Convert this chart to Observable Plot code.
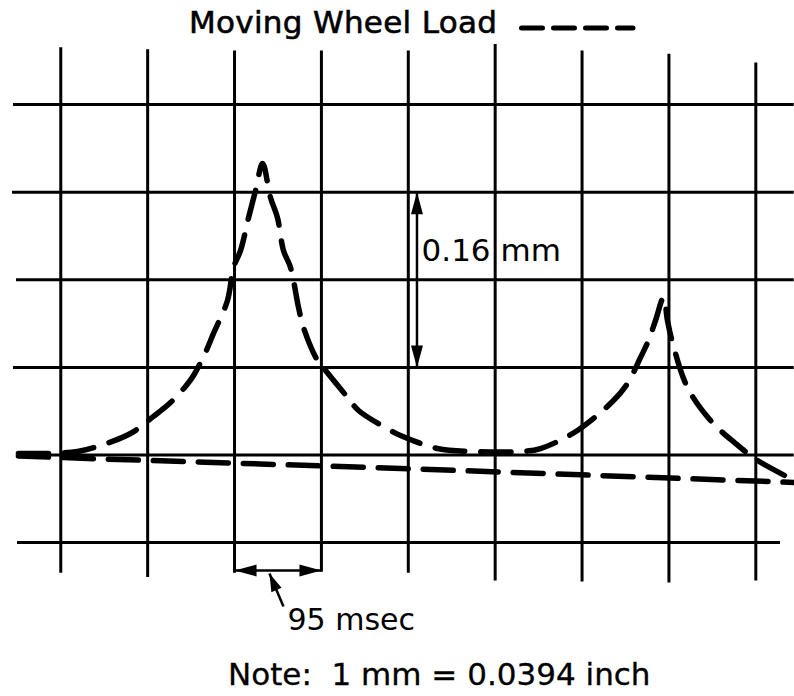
<!DOCTYPE html>
<html>
<head>
<meta charset="utf-8">
<script src="https://cdn.jsdelivr.net/npm/d3@7"></script>
<script src="https://cdn.jsdelivr.net/npm/@observablehq/plot@0.6"></script>
<style>
  html, body { margin: 0; padding: 0; background: #fff; }
  #wrap { position: relative; width: 794px; height: 696px; overflow: hidden; background: #fff; }
  #title { position: absolute; left: 189px; top: 6px; font: 31px/32px "DejaVu Sans", sans-serif; letter-spacing: 0.3px; -webkit-text-stroke: 0.6px #000; color: #000; white-space: nowrap; }
  #legend { position: absolute; left: 515px; top: 20px; }
  #chart { position: absolute; left: 0; top: 44px; }
  #note { position: absolute; left: 228px; top: 659px; font: 31px/31px "DejaVu Sans", sans-serif; -webkit-text-stroke: 0.3px #000; color: #000; white-space: pre; }
</style>
</head>
<body>
<div id="wrap">
  <div id="title">Moving Wheel Load</div>
  <svg id="legend" width="130" height="16"><line x1="6.5" y1="8" x2="118" y2="8" stroke="#000" stroke-width="5" stroke-linecap="round" stroke-dasharray="21,11"/></svg>
  <div id="chart"></div>
  <div id="note">Note:  1 mm = 0.0394 inch</div>
</div>
<script>
// ---- grid (time in msec, deflection in mm) ----
const gridT = [0, 95, 190, 285, 380, 475, 570, 665, 760];
const gridTopV = [0.372, 0.370, 0.369, 0.369, 0.369, 0.375, 0.369, 0.366, 0.358];
const gridBottomV = [-0.108, -0.112, -0.108, -0.107, -0.108, -0.115, -0.116, -0.117, -0.115];
const gridV = [0.32, 0.24, 0.16, 0.08, 0, -0.08];
const gridLeftT = [-51.7, -52.8, -48.4, -51.7, -47.3, -47.3];
const gridRightT = [802, 802, 802, 802, 802, 787];

// ---- moving wheel load trace ----
const wheelT = [-46.3, -11.3, 18.3, 40.1, 76.2, 101.4, 120.0, 136.4, 145.2, 158.2, 167.0, 182.3, 188.9, 196.6, 205.4, 213.0, 220.7,
  229.3, 236.9, 243.5, 251.2, 260.0, 265.4, 280.7, 289.5, 313.5, 325.6, 360.5, 371.5, 411.9, 450.3, 502.7, 524.6, 565.0,
  604.4, 619.7, 633.9, 642.7, 650.3, 659.1, 663.4, 668.9, 685.3, 710.5, 737.8, 761.9, 802.3];
const wheelV = [0.0014, 0.0014, 0.0032, 0.0078, 0.0196, 0.0352, 0.0479, 0.0626, 0.0726, 0.0936, 0.1110, 0.1411, 0.1712, 0.1868, 0.2169, 0.2416, 0.2662,
  0.2352, 0.2169, 0.1868, 0.1712, 0.1347, 0.1164, 0.0863, 0.0772, 0.0527, 0.0406, 0.0224, 0.0178, 0.0059, 0.0032, 0.0032, 0.0059, 0.0224,
  0.0498, 0.0653, 0.0890, 0.1046, 0.1228, 0.1438, 0.1228, 0.1027, 0.0616, 0.0315, 0.0105, -0.0050, -0.0233];

// ---- static reference trace ----
const staticT = [-46.3, 29.2, 371.5, 802.3];
const staticV = [-0.0009, -0.0032, -0.0123, -0.0251];

// ---- annotations ----
const spanT = 389.5;                 // vertical dimension arrow position
const spanV = [0.08, 0.24];          // 0.16 mm
const spanLabel = "0.16 mm";
const spanLabelPos = [394.5, 0.1776];
const periodT = [190, 285];          // 95 msec
const periodV = -0.1055;
const periodLabel = "95 msec";
const periodLabelPos = [247.9, -0.1603];
const leaderFrom = [243.5, -0.1384];
const leaderTo = [228.2, -0.1082];

// custom arrowhead symbols (tip at origin)
function tri(points) {
  return { draw(ctx) { ctx.moveTo(0, 0); ctx.lineTo(points[0][0], points[0][1]); ctx.lineTo(points[1][0], points[1][1]); ctx.closePath(); } };
}
const headUp = tri([[6, 22], [-6, 22]]);
const headDown = tri([[6, -22], [-6, -22]]);
const headLeft = tri([[22, -6], [22, 6]]);
const headRight = tri([[-22, -6], [-22, 6]]);
const headLeader = tri([[12.1, 14.4], [1.9, 18.7]]);

const vLines = gridT.map((t, i) => ({t, y1: gridBottomV[i], y2: gridTopV[i]}));
const hLines = gridV.map((v, i) => ({v, x1: gridLeftT[i], x2: gridRightT[i]}));
const wheel = wheelT.map((t, i) => ({t, v: wheelV[i]}));
const stat = staticT.map((t, i) => ({t, v: staticV[i]}));

const chart = Plot.plot({
  width: 794,
  height: 600,
  marginTop: 0, marginRight: 0, marginBottom: 0, marginLeft: 0,
  x: {domain: [-65.9, 802.3], axis: null},
  y: {domain: [-0.1731, 0.3749], axis: null},
  style: {background: "transparent", overflow: "visible"},
  marks: [
    Plot.ruleX(vLines, {x: "t", y1: "y1", y2: "y2", stroke: "#000", strokeWidth: 3}),
    Plot.ruleY(hLines, {y: "v", x1: "x1", x2: "x2", stroke: "#000", strokeWidth: 3}),
    Plot.line(stat, {x: "t", y: "v", stroke: "#000", strokeWidth: 5.5, strokeDasharray: "30,15", strokeLinecap: "round"}),
    Plot.line(wheel, {x: "t", y: "v", curve: "catmull-rom", stroke: "#000", strokeWidth: 5.5, strokeDasharray: "30,16", strokeLinecap: "round"}),
    // 0.16 mm dimension
    Plot.ruleX([spanT], {x: d => d, y1: spanV[0], y2: spanV[1], stroke: "#000", strokeWidth: 2.5}),
    Plot.dot([spanV[1]], {x: spanT, y: d => d, symbol: headUp, fill: "#000", stroke: "none"}),
    Plot.dot([spanV[0]], {x: spanT, y: d => d, symbol: headDown, fill: "#000", stroke: "none"}),
    Plot.text([spanLabel], {x: spanLabelPos[0], y: spanLabelPos[1], text: d => d, textAnchor: "start", lineAnchor: "bottom", fontSize: 31, fontFamily: "DejaVu Sans", fill: "#000"}),
    // 95 msec dimension
    Plot.ruleY([periodV], {y: d => d, x1: periodT[0], x2: periodT[1], stroke: "#000", strokeWidth: 2.5}),
    Plot.dot([periodT[0]], {x: d => d, y: periodV, symbol: headLeft, fill: "#000", stroke: "none"}),
    Plot.dot([periodT[1]], {x: d => d, y: periodV, symbol: headRight, fill: "#000", stroke: "none"}),
    Plot.link([0], {x1: leaderFrom[0], y1: leaderFrom[1], x2: leaderTo[0], y2: leaderTo[1], stroke: "#000", strokeWidth: 2.5}),
    Plot.dot([0], {x: leaderTo[0], y: leaderTo[1], symbol: headLeader, fill: "#000", stroke: "none"}),
    Plot.text([periodLabel], {x: periodLabelPos[0], y: periodLabelPos[1], text: d => d, textAnchor: "start", lineAnchor: "bottom", fontSize: 30, fontFamily: "DejaVu Sans", fill: "#000"})
  ]
});
document.getElementById("chart").appendChild(chart);
</script>
</body>
</html>
